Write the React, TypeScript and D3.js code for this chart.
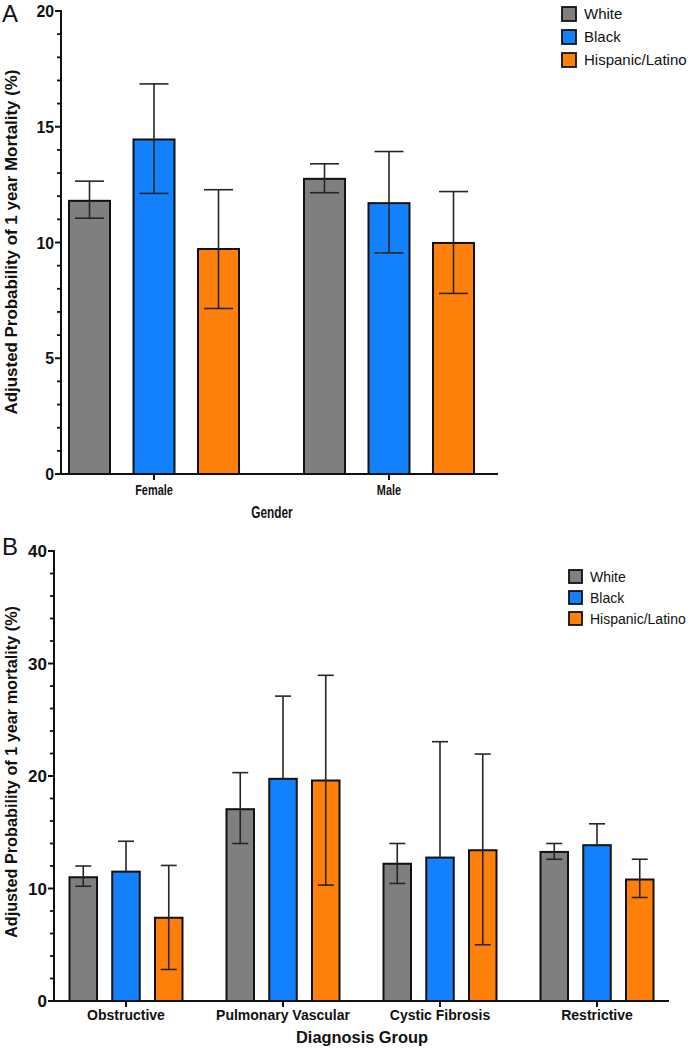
import React from "react";
import * as d3 from "d3";

// ---------- shared ----------
const seriesNames = ["White", "Black", "Hispanic/Latino"];
const seriesColors = ["#7f7f7f", "#1380fe", "#fe800a"];

// ---------- Panel A : Gender ----------
const genderCategories = ["Female", "Male"];
const genderWhiteMean = [11.8, 12.75];
const genderWhiteLow = [11.05, 12.15];
const genderWhiteHigh = [12.65, 13.4];
const genderBlackMean = [14.45, 11.7];
const genderBlackLow = [12.12, 9.55];
const genderBlackHigh = [16.85, 13.93];
const genderHispMean = [9.72, 9.98];
const genderHispLow = [7.15, 7.8];
const genderHispHigh = [12.28, 12.2];
const genderTicksMajor = [0, 5, 10, 15, 20];

// ---------- Panel B : Diagnosis group ----------
const diagCategories = ["Obstructive", "Pulmonary Vascular", "Cystic Fibrosis", "Restrictive"];
const diagWhiteMean = [11.0, 17.05, 12.2, 13.25];
const diagWhiteLow = [10.2, 14.0, 10.45, 12.6];
const diagWhiteHigh = [12.0, 20.3, 14.0, 14.0];
const diagBlackMean = [11.5, 19.75, 12.75, 13.85];
const diagBlackLow = [null, null, null, null];
const diagBlackHigh = [14.2, 27.1, 23.05, 15.75];
const diagHispMean = [7.4, 19.6, 13.4, 10.8];
const diagHispLow = [2.8, 10.3, 5.0, 9.2];
const diagHispHigh = [12.05, 28.95, 21.95, 12.6];
const diagTicksMajor = [0, 10, 20, 30, 40];

const FONT = "'Liberation Sans', Arial, Helvetica, sans-serif";

type PanelProps = {
  letter: string;
  letterY: number;
  categories: string[];
  means: number[][];
  lows: (number | null)[][];
  highs: number[][];
  majorTicks: number[];
  minorStep: number;
  axisX0: number;
  axisX1: number;
  yTop: number;
  yBottom: number;
  firstCenter: number;
  lastCenter: number;
  barStep: number;
  barWidth: number;
  capWidth: number;
  tickFont: number;
  tickScaleX: number;
  tickLabelGap: number;
  majorLen: number;
  yTitle: string;
  yTitleLength: number;
  yTitleFont: number;
  yTitleCenterY: number;
  catFont: number;
  catBaseline: number;
  catScaleX: number;
  xTitle: string;
  xTitleFont: number;
  xTitleBaseline: number;
  xTitleCenter: number;
  xTitleScaleX: number;
  legendX: number;
  legendY0: number;
  legendStep: number;
  legendBox: number;
  legendFont: number;
};

function Panel(p: PanelProps) {
  const yMax = p.majorTicks[p.majorTicks.length - 1];
  const y = d3.scaleLinear().domain([0, yMax]).range([p.yBottom, p.yTop]);
  const xg = d3.scalePoint<string>().domain(p.categories).range([p.firstCenter, p.lastCenter]);
  const pad = 1 - p.barWidth / p.barStep;
  const xs = d3
    .scaleBand<string>()
    .domain(seriesNames)
    .range([-1.5 * p.barStep, 1.5 * p.barStep])
    .paddingInner(pad)
    .paddingOuter(pad / 2);
  const minorTicks = d3
    .range(0, yMax + 1e-6, p.minorStep)
    .filter((v) => !p.majorTicks.some((m) => Math.abs(m - v) < 1e-6));

  return (
    <g>
      <text x={2} y={p.letterY} fontSize={24} fontFamily={FONT} fill="#111">
        {p.letter}
      </text>

      {/* bars */}
      {p.categories.map((c, ci) =>
        seriesNames.map((s, si) => {
          const x = (xg(c) as number) + (xs(s) as number);
          return (
            <rect
              key={c + s}
              x={x}
              y={y(p.means[si][ci])}
              width={xs.bandwidth()}
              height={y(0) - y(p.means[si][ci])}
              fill={seriesColors[si]}
              stroke="#111"
              strokeWidth={2}
            />
          );
        })
      )}

      {/* error bars */}
      {p.categories.map((c, ci) =>
        seriesNames.map((s, si) => {
          const cx = (xg(c) as number) + (xs(s) as number) + xs.bandwidth() / 2;
          const lo = p.lows[si][ci];
          const hi = p.highs[si][ci];
          const m = p.means[si][ci];
          const hw = p.capWidth / 2;
          return (
            <g key={"e" + c + s} stroke="#262626" strokeWidth={1.6}>
              <line x1={cx} x2={cx} y1={y(lo == null ? m : lo)} y2={y(hi)} />
              <line x1={cx - hw} x2={cx + hw} y1={y(hi)} y2={y(hi)} />
              {lo != null && <line x1={cx - hw} x2={cx + hw} y1={y(lo)} y2={y(lo)} />}
            </g>
          );
        })
      )}

      {/* y axis */}
      <line x1={p.axisX0} x2={p.axisX0} y1={p.yTop - 1} y2={p.yBottom + 1} stroke="#111" strokeWidth={2} />
      {p.majorTicks.map((t) => (
        <g key={"mt" + t}>
          <line x1={p.axisX0 - p.majorLen} x2={p.axisX0} y1={y(t)} y2={y(t)} stroke="#111" strokeWidth={2} />
          <text
            transform={`translate(${p.axisX0 - p.majorLen - p.tickLabelGap},${y(t) + p.tickFont * 0.36}) scale(${p.tickScaleX},1)`}
            textAnchor="end"
            fontSize={p.tickFont}
            fontWeight="bold"
            fontFamily={FONT}
            fill="#111"
          >
            {t}
          </text>
        </g>
      ))}
      {minorTicks.map((t) => (
        <line key={"mn" + t} x1={p.axisX0 - 4} x2={p.axisX0} y1={y(t)} y2={y(t)} stroke="#111" strokeWidth={1.8} />
      ))}

      {/* x axis */}
      <line x1={p.axisX0 - 1} x2={p.axisX1} y1={p.yBottom} y2={p.yBottom} stroke="#111" strokeWidth={2} />
      {p.categories.map((c) => (
        <g key={"xc" + c}>
          <line x1={xg(c)} x2={xg(c)} y1={p.yBottom} y2={p.yBottom + 6} stroke="#111" strokeWidth={2} />
          <text
            transform={`translate(${xg(c)},${p.catBaseline}) scale(${p.catScaleX},1)`}
            textAnchor="middle"
            fontSize={p.catFont}
            fontWeight="bold"
            fontFamily={FONT}
            fill="#111"
          >
            {c}
          </text>
        </g>
      ))}
      <text
        transform={`translate(${p.xTitleCenter},${p.xTitleBaseline}) scale(${p.xTitleScaleX},1)`}
        textAnchor="middle"
        fontSize={p.xTitleFont}
        fontWeight="bold"
        fontFamily={FONT}
        fill="#111"
      >
        {p.xTitle}
      </text>

      {/* y title */}
      <text
        transform={`translate(17,${p.yTitleCenterY}) rotate(-90)`}
        textAnchor="middle"
        fontSize={p.yTitleFont}
        fontWeight="bold"
        fontFamily={FONT}
        fill="#111"
        textLength={p.yTitleLength}
        lengthAdjust="spacingAndGlyphs"
      >
        {p.yTitle}
      </text>

      {/* legend */}
      {seriesNames.map((s, si) => {
        const cy = p.legendY0 + si * p.legendStep;
        return (
          <g key={"lg" + s}>
            <rect
              x={p.legendX}
              y={cy - p.legendBox / 2}
              width={p.legendBox}
              height={p.legendBox}
              fill={seriesColors[si]}
              stroke="#111"
              strokeWidth={1.8}
            />
            <text
              x={p.legendX + p.legendBox + 8}
              y={cy + p.legendFont * 0.36}
              fontSize={p.legendFont}
              fontFamily={FONT}
              fill="#111"
            >
              {s}
            </text>
          </g>
        );
      })}
    </g>
  );
}

export default function App() {
  const genderMeans = [genderWhiteMean, genderBlackMean, genderHispMean];
  const genderLows = [genderWhiteLow, genderBlackLow, genderHispLow];
  const genderHighs = [genderWhiteHigh, genderBlackHigh, genderHispHigh];
  const diagMeans = [diagWhiteMean, diagBlackMean, diagHispMean];
  const diagLows = [diagWhiteLow, diagBlackLow, diagHispLow];
  const diagHighs = [diagWhiteHigh, diagBlackHigh, diagHispHigh];

  return (
    <svg
      width={691}
      height={1050}
      style={{ position: "absolute", left: 0, top: 0, background: "#fff" }}
    >
      <rect width={691} height={1050} fill="#fff" />
      <Panel
        letter="A"
        letterY={22}
        categories={genderCategories}
        means={genderMeans}
        lows={genderLows}
        highs={genderHighs}
        majorTicks={genderTicksMajor}
        minorStep={1}
        axisX0={61}
        axisX1={498}
        yTop={11}
        yBottom={474}
        firstCenter={154}
        lastCenter={389}
        barStep={64.5}
        barWidth={41}
        capWidth={29}
        tickFont={17}
        tickScaleX={0.93}
        tickLabelGap={1}
        majorLen={6}
        yTitle="Adjusted Probability of 1 year Mortality (%)"
        yTitleLength={345}
        yTitleFont={16}
        yTitleCenterY={242}
        catFont={14}
        catBaseline={495}
        catScaleX={0.78}
        xTitle="Gender"
        xTitleFont={16}
        xTitleBaseline={518}
        xTitleCenter={272}
        xTitleScaleX={0.74}
        legendX={562}
        legendY0={14}
        legendStep={23}
        legendBox={14}
        legendFont={15}
      />
      <Panel
        letter="B"
        letterY={555}
        categories={diagCategories}
        means={diagMeans}
        lows={diagLows}
        highs={diagHighs}
        majorTicks={diagTicksMajor}
        minorStep={2}
        axisX0={54}
        axisX1={669}
        yTop={551}
        yBottom={1001}
        firstCenter={126}
        lastCenter={597}
        barStep={42.75}
        barWidth={27.5}
        capWidth={16}
        tickFont={17}
        tickScaleX={1}
        tickLabelGap={1}
        majorLen={6}
        yTitle="Adjusted Probability of 1 year mortality (%)"
        yTitleLength={332}
        yTitleFont={16}
        yTitleCenterY={772}
        catFont={14}
        catBaseline={1020}
        catScaleX={1}
        xTitle="Diagnosis Group"
        xTitleFont={16.4}
        xTitleBaseline={1043}
        xTitleCenter={362}
        xTitleScaleX={1}
        legendX={569}
        legendY0={576.5}
        legendStep={21}
        legendBox={13}
        legendFont={14}
      />
    </svg>
  );
}
